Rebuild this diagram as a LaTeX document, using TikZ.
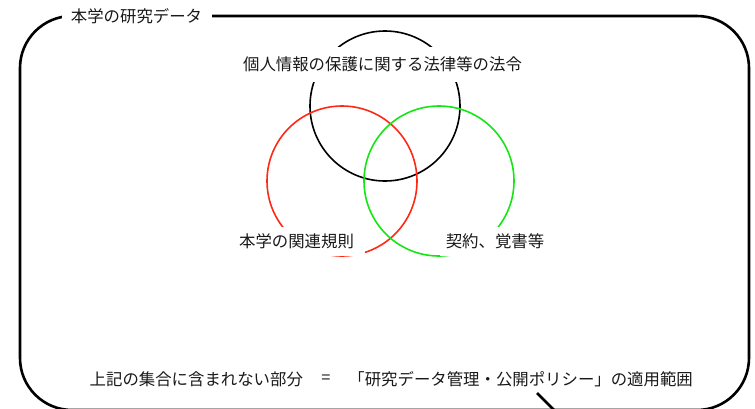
\documentclass[tikz,border=0pt]{standalone}
\usepackage{fontspec}
\setmainfont{Noto Sans CJK JP}
\definecolor{setred}{RGB}{255,40,20}
\definecolor{setgreen}{RGB}{20,230,20}
\definecolor{inkc}{RGB}{25,25,25}
\begin{document}
\begin{tikzpicture}[x=1pt,y=-1pt,
  frameline/.style={line width=2.6pt, draw=black},
  setcircle/.style={circle, line width=1.6pt, minimum size=150pt, inner sep=0pt},
  lbl/.style={fill=white, inner sep=0pt, text=inkc, font=\fontsize{16.4}{18}\selectfont},
  plain/.style={inner sep=0pt, text=inkc, font=\fontsize{16.4}{18}\selectfont}]
\useasboundingbox (0,0) rectangle (755,408);
\begin{scope}
\clip (0,0) rectangle (755,408);
\draw[frameline, rounded corners=52pt] (20,16) rectangle (749,410);
\coordinate (tailtop) at (537,393);
\coordinate (tailbot) at (556,412);
\draw[frameline] (tailtop) -- (tailbot);
\end{scope}
\node[setcircle, draw=black] (lawset) at (385,106) {};
\node[setcircle, draw=setred] (ruleset) at (342,181) {};
\node[setcircle, draw=setgreen] (contractset) at (439,181) {};
\node[lbl, minimum width=150pt, minimum height=20pt] (title) at (136.5,16) {本学の研究データ};
\node[lbl, minimum width=296pt, minimum height=35pt] (lawlbl) at (382.5,64.5) {個人情報の保護に関する法律等の法令};
\node[lbl, minimum width=136pt, minimum height=29pt] (rulelbl) at (296.5,241.5) {本学の関連規則};
\node[lbl, minimum width=110pt, minimum height=29pt] (contractlbl) at (495,241.5) {契約、覚書等};
\node[plain, anchor=west] (outside) at (89.5,379) {上記の集合に含まれない部分};
\node[plain] (equals) at (326,379) {=};
\node[plain, anchor=east] (policy) at (693,379) {「研究データ管理・公開ポリシー」の適用範囲};
\end{tikzpicture}
\end{document}
